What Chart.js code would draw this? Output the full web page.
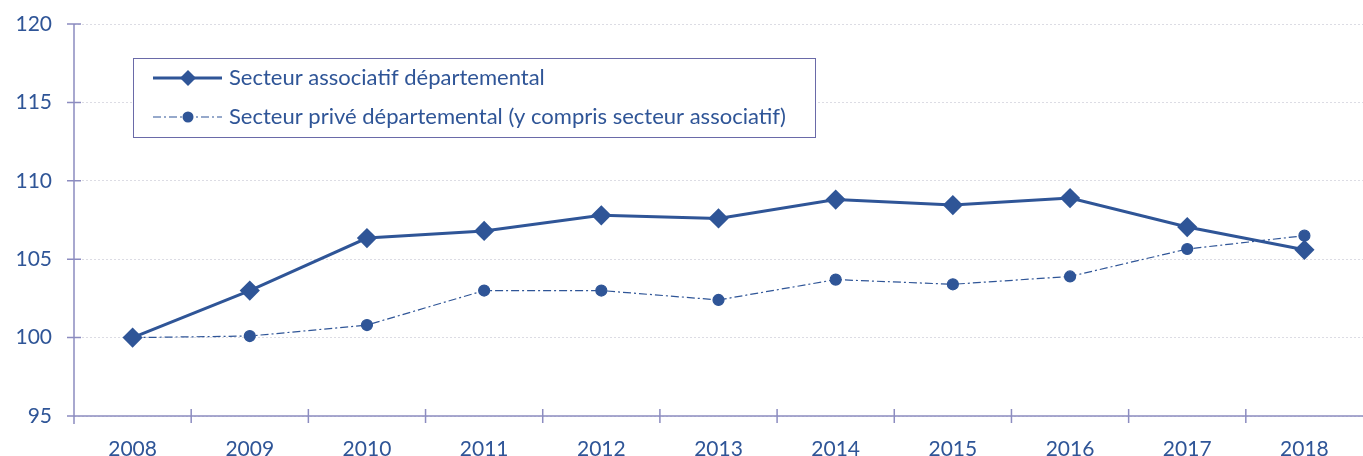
<!DOCTYPE html>
<html>
<head>
<meta charset="utf-8">
<script src="https://cdn.jsdelivr.net/npm/chart.js@4/dist/chart.umd.min.js"></script>
<style>
  html, body { margin: 0; padding: 0; background: #fff; }
</style>
</head>
<body>
<canvas id="chart" width="1363" height="456"></canvas>
<script>
const years = ['2008', '2009', '2010', '2011', '2012', '2013', '2014', '2015', '2016', '2017', '2018'];
const associatif = [100, 103.0, 106.35, 106.8, 107.8, 107.6, 108.8, 108.45, 108.9, 107.05, 105.6];
const prive = [100, 100.1, 100.8, 103.0, 103.0, 102.4, 103.7, 103.4, 103.9, 105.65, 106.5];
const yTicks = [95, 100, 105, 110, 115, 120];

const blue = '#2F5597';
const axisColor = '#8C8CC0';
const font = { family: 'Lato, "Open Sans", sans-serif', size: 21 };
const legendFont = '22px Lato, "Open Sans", sans-serif';

// axis lines and crossing tick marks, like the office chart
const axisPlugin = {
  id: 'axisMarks',
  afterDraw(chart) {
    const { ctx, chartArea: a, scales } = chart;
    ctx.save();
    ctx.strokeStyle = axisColor;
    ctx.lineWidth = 1.5;
    ctx.beginPath();
    ctx.moveTo(a.left, a.top); ctx.lineTo(a.left, a.bottom + 8);
    ctx.moveTo(a.left, a.bottom); ctx.lineTo(a.right, a.bottom);
    yTicks.forEach((v) => {
      const y = scales.y.getPixelForValue(v);
      ctx.moveTo(a.left - 7, y); ctx.lineTo(a.left + 7, y);
    });
    const step = (a.right - a.left) / years.length;
    for (let i = 1; i < years.length; i++) {
      const x = a.left + i * step;
      ctx.moveTo(x, a.bottom - 7); ctx.lineTo(x, a.bottom + 7);
    }
    ctx.stroke();
    ctx.restore();
  },
};

// legend box inside the plot
const legendPlugin = {
  id: 'boxLegend',
  afterDraw(chart) {
    const { ctx } = chart;
    const bx = 133, by = 58, bw = 682, bh = 79;
    ctx.save();
    ctx.strokeStyle = '#6A6AA8';
    ctx.lineWidth = 1;
    ctx.fillStyle = '#fff';
    ctx.fillRect(bx, by, bw, bh);
    ctx.strokeRect(bx + 0.5, by + 0.5, bw, bh);
    ctx.font = legendFont;
    ctx.textBaseline = 'middle';
    const rows = [
      { ds: chart.data.datasets[0], y: 78 },
      { ds: chart.data.datasets[1], y: 117 },
    ];
    rows.forEach(({ ds, y }) => {
      ctx.strokeStyle = blue;
      ctx.lineWidth = ds.borderWidth;
      ctx.setLineDash(ds.borderDash || []);
      ctx.beginPath();
      ctx.moveTo(153, y); ctx.lineTo(222, y);
      ctx.stroke();
      ctx.setLineDash([]);
      ctx.fillStyle = blue;
      ctx.beginPath();
      if (ds.pointStyle === 'rectRot') {
        const r = 8;
        ctx.moveTo(188, y - r); ctx.lineTo(188 + r, y); ctx.lineTo(188, y + r); ctx.lineTo(188 - r, y);
        ctx.closePath();
      } else {
        ctx.arc(188, y, 5.5, 0, Math.PI * 2);
      }
      ctx.fill();
      ctx.fillText(ds.label, 229, y);
    });
    ctx.restore();
  },
};

new Chart(document.getElementById('chart'), {
  type: 'line',
  data: {
    labels: years,
    datasets: [
      {
        label: 'Secteur associatif départemental',
        data: associatif,
        borderColor: blue,
        backgroundColor: blue,
        borderWidth: 3,
        pointStyle: 'rectRot',
        pointRadius: 8,
        pointHoverRadius: 8,
        tension: 0,
      },
      {
        label: 'Secteur privé départemental (y compris secteur associatif)',
        data: prive,
        borderColor: blue,
        backgroundColor: blue,
        borderWidth: 1.2,
        borderDash: [8, 3, 2, 3],
        pointStyle: 'circle',
        pointRadius: 5.5,
        pointHoverRadius: 5.5,
        tension: 0,
      },
    ],
  },
  options: {
    responsive: false,
    animation: false,
    devicePixelRatio: 1,
    layout: { autoPadding: false, padding: { top: 24, right: 0, left: 0, bottom: 0 } },
    plugins: { legend: { display: false }, tooltip: { enabled: false } },
    scales: {
      x: {
        offset: true,
        grid: { display: false, offset: true },
        border: { display: false },
        ticks: { color: blue, font, padding: 13, maxRotation: 0, autoSkip: false },
        afterFit: (s) => { s.height = 40; s.paddingLeft = 0; s.paddingRight = 0; },
      },
      y: {
        min: 95,
        max: 120,
        afterBuildTicks: (s) => { s.ticks = yTicks.map((v) => ({ value: v })); },
        grid: { color: '#DCDCE4', lineWidth: 1, drawTicks: false },
        border: { display: false, dash: [2, 2] },
        ticks: { color: blue, font, padding: 22 },
        afterFit: (s) => { s.width = 74; s.paddingTop = 0; s.paddingBottom = 0; },
      },
    },
  },
  plugins: [axisPlugin, legendPlugin],
});
</script>
</body>
</html>
